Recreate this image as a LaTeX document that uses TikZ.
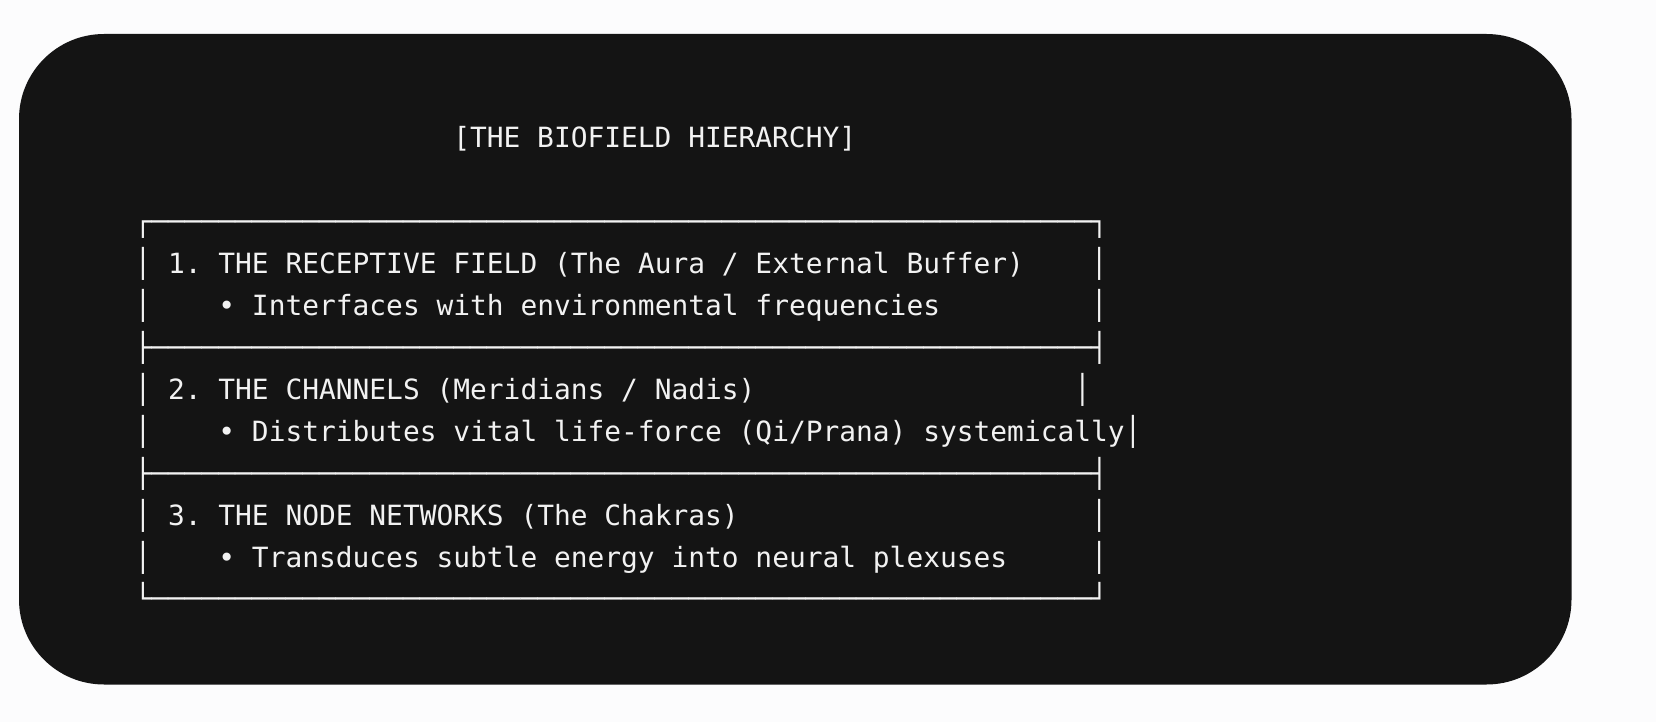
\documentclass[tikz,border=0pt]{standalone}
\usepackage{fontspec}
\newfontfamily\codefont{DejaVu Sans Mono}
\definecolor{pagebg}{HTML}{FCFCFD}
\definecolor{panelbg}{HTML}{141414}
\definecolor{codefg}{HTML}{F2F2F2}
\frenchspacing
\begin{document}
\begin{tikzpicture}[x=0.5pt,y=-0.5pt,
  codeline/.style={anchor=base west, inner sep=0pt, outer sep=0pt, text=codefg,
    font=\codefont\fontsize{13.94}{16}\selectfont\frenchspacing}]
\fill[pagebg] (0,0) rectangle (1656,722);
\useasboundingbox (0,0) rectangle (1656,722);
\fill[panelbg, rounded corners=42.5pt] (19,34) rectangle (1571.5,684.5);
\begin{scope}[shift={(67.25pt,-115.9pt)}, x=8.39pt, y=-20.95pt]
  \node[codeline] (title) at (19,-2) {[THE BIOFIELD HIERARCHY]};
  % box 1
  \node[codeline] (top) at (0,0) {┌────────────────────────────────────────────────────────┐};
  \node[codeline] (l1a) at (0,1) {│};
  \node[codeline] (t1a) at (2,1) {1. THE RECEPTIVE FIELD (The Aura / External Buffer)};
  \node[codeline] (r1a) at (57,1) {│};
  \node[codeline] (l1b) at (0,2) {│};
  \node[codeline] (t1b) at (5,2) {• Interfaces with environmental frequencies};
  \node[codeline] (r1b) at (57,2) {│};
  \node[codeline] (sep1) at (0,3) {├────────────────────────────────────────────────────────┤};
  % box 2
  \node[codeline] (l2a) at (0,4) {│};
  \node[codeline] (t2a) at (2,4) {2. THE CHANNELS (Meridians / Nadis)};
  \node[codeline] (r2a) at (56,4) {│};
  \node[codeline] (l2b) at (0,5) {│};
  \node[codeline] (t2b) at (5,5) {• Distributes vital life-force (Qi/Prana) systemically};
  \node[codeline] (r2b) at (59,5) {│};
  \node[codeline] (sep2) at (0,6) {├────────────────────────────────────────────────────────┤};
  % box 3
  \node[codeline] (l3a) at (0,7) {│};
  \node[codeline] (t3a) at (2,7) {3. THE NODE NETWORKS (The Chakras)};
  \node[codeline] (r3a) at (57,7) {│};
  \node[codeline] (l3b) at (0,8) {│};
  \node[codeline] (t3b) at (5,8) {• Transduces subtle energy into neural plexuses};
  \node[codeline] (r3b) at (57,8) {│};
  \node[codeline] (bot) at (0,9) {└────────────────────────────────────────────────────────┘};
\end{scope}
\end{tikzpicture}
\end{document}
